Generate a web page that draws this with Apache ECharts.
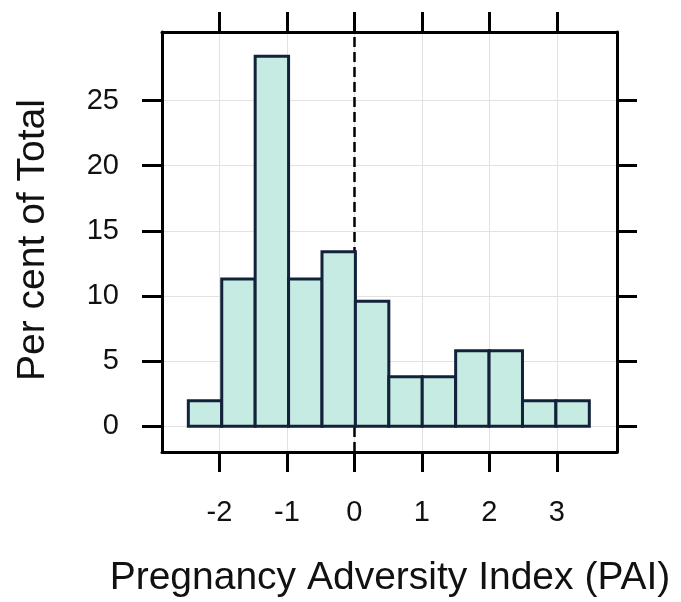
<!DOCTYPE html>
<html>
<head>
<meta charset="utf-8">
<script src="https://cdn.jsdelivr.net/npm/echarts@6/dist/echarts.min.js"></script>
<style>
  html, body { margin: 0; padding: 0; background: #fff; }
  #main { width: 681px; height: 602px; }
</style>
</head>
<body>
<div id="main"></div>
<script>
// histogram bins (PAI) and per cent of total in each bin
var binEdges = [-2.46, -1.965, -1.47, -0.975, -0.48, 0.015, 0.51, 1.005, 1.5, 1.995, 2.49, 2.985, 3.48];
var percents = [1.95, 11.3, 28.4, 11.3, 13.4, 9.6, 3.8, 3.8, 5.8, 5.8, 1.95, 1.95];
var xTicks = [-2, -1, 0, 1, 2, 3];
var yTicks = [0, 5, 10, 15, 20, 25];
var xTitle = 'Pregnancy Adversity Index (PAI)';
var yTitle = 'Per cent of Total';

var xMin = -2.85, xMax = 3.89;
var yMin = -1.98, yMax = 30.26;

var chart = echarts.init(document.getElementById('main'));

var binData = percents.map(function (p, i) {
    return [binEdges[i], binEdges[i + 1], p];
});

var frame = { show: true, onZero: false, lineStyle: { color: '#000', width: 3 } };
var tickStyle = { color: '#000', width: 3 };
var labelFont = { fontFamily: 'Liberation Sans', fontSize: 29, color: '#111' };

function xAxisOf(pos, withLabels) {
    return {
        type: 'value', position: pos, min: xMin, max: xMax,
        axisLine: frame,
        axisTick: { show: true, inside: false, length: 20, customValues: xTicks, lineStyle: tickStyle },
        axisLabel: Object.assign({ show: withLabels, margin: 46, customValues: xTicks }, labelFont),
        splitLine: { show: withLabels, lineStyle: { color: '#e2e2e2', width: 1 } }
    };
}
function yAxisOf(pos, withLabels) {
    return {
        type: 'value', position: pos, min: yMin, max: yMax,
        axisLine: frame,
        axisTick: { show: true, inside: false, length: 20, customValues: yTicks, lineStyle: tickStyle },
        axisLabel: Object.assign({ show: withLabels, margin: 43, customValues: yTicks }, labelFont),
        splitLine: { show: withLabels, lineStyle: { color: '#e2e2e2', width: 1 } }
    };
}

var option = {
    backgroundColor: '#fff',
    animation: false,
    grid: { left: 162, right: 64, top: 32, bottom: 150 },
    xAxis: [xAxisOf('bottom', true), xAxisOf('top', false)],
    yAxis: [yAxisOf('left', true), yAxisOf('right', false)],
    graphic: [{
        type: 'text', x: 390, y: 578,
        style: { text: xTitle, font: '39px "Liberation Sans"', fill: '#111', textAlign: 'center', textVerticalAlign: 'middle' }
    }, {
        type: 'text', x: 33, y: 240, rotation: Math.PI / 2,
        style: { text: yTitle, font: '39px "Liberation Sans"', fill: '#111', textAlign: 'center', textVerticalAlign: 'middle' }
    }],
    series: [{
        type: 'custom',
        data: binData,
        encode: { x: [0, 1], y: 2 },
        renderItem: function (params, api) {
            var p0 = api.coord([api.value(0), 0]);
            var p1 = api.coord([api.value(1), api.value(2)]);
            return {
                type: 'rect',
                shape: { x: p0[0], y: p1[1], width: p1[0] - p0[0], height: p0[1] - p1[1] },
                style: { fill: '#c6ebe2', stroke: '#12223a', lineWidth: 3 }
            };
        },
        markLine: {
            silent: true, symbol: 'none', z: 1,
            label: { show: false },
            lineStyle: { color: '#000', width: 2.5, type: [10, 5] },
            data: [{ xAxis: 0 }]
        }
    }]
};
chart.setOption(option);
</script>
</body>
</html>
